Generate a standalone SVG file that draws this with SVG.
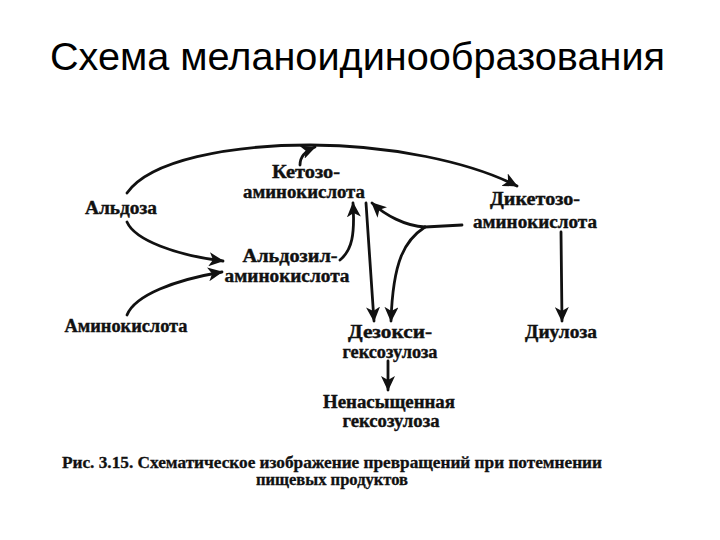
<svg xmlns="http://www.w3.org/2000/svg" width="720" height="540" viewBox="0 0 720 540">
<defs>
<marker id="ah" markerUnits="userSpaceOnUse" markerWidth="16" markerHeight="14" refX="14" refY="7" orient="auto">
<path d="M0,0 L15,7 L0,14 L4,7 z" fill="#111"/>
</marker>
<style>
.t{font-family:"Liberation Serif","Times New Roman",serif;font-weight:bold;font-size:18px;fill:#111;text-anchor:middle;stroke:#111;stroke-width:0.4}
.c{stroke:#111;stroke-width:2.8;fill:none;stroke-linecap:round}
.a{marker-end:url(#ah)}
.title{font-family:"Liberation Sans",Arial,sans-serif;font-size:39px;fill:#000}
.cap{font-family:"Liberation Serif","Times New Roman",serif;font-weight:bold;font-size:16px;fill:#111;text-anchor:middle;stroke:#111;stroke-width:0.3}
</style>
</defs>
<rect width="720" height="540" fill="#fff"/>
<text class="title" x="50" y="70" textLength="615" lengthAdjust="spacingAndGlyphs">Схема меланоидинообразования</text>

<g id="connectors">
<path class="c a" d="M127,193 C150,160 230,145 310,145 C390,145 470,162 517,186"/>
<path class="c a" d="M300,165 C300,157 305,151 315,147"/>
<path class="c a" d="M127,222 C135,240 175,255 223,261"/>
<path class="c a" d="M127,315 C135,295 175,280 222,272"/>
<path class="c a" d="M340,260 C352,250 355,235 353,203"/>
<path class="c a" d="M366,203 L374,321"/>
<path class="c" d="M462,225 L425,227"/>
<path class="c a" d="M425,227 C405,226 385,215 372,203"/>
<path class="c a" d="M425,227 C405,240 393,260 391,321"/>
<path class="c a" d="M561,232 L562,321"/>
<path class="c a" d="M388,361 L388,390"/>
</g>

<g id="aldoza"><text class="t" x="121" y="214" textLength="72" lengthAdjust="spacingAndGlyphs">Альдоза</text></g>
<g id="ketozo">
<text class="t" x="306" y="178" textLength="68" lengthAdjust="spacingAndGlyphs">Кетозо-</text>
<text class="t" x="304" y="198" textLength="122" lengthAdjust="spacingAndGlyphs">аминокислота</text>
</g>
<g id="aldozil">
<text class="t" x="290" y="262" textLength="95" lengthAdjust="spacingAndGlyphs">Альдозил-</text>
<text class="t" x="287" y="282" textLength="125" lengthAdjust="spacingAndGlyphs">аминокислота</text>
</g>
<g id="aminokislota"><text class="t" x="126" y="332" textLength="123" lengthAdjust="spacingAndGlyphs">Аминокислота</text></g>
<g id="diketozo">
<text class="t" x="535" y="205" textLength="90" lengthAdjust="spacingAndGlyphs">Дикетозо-</text>
<text class="t" x="535" y="228" textLength="124" lengthAdjust="spacingAndGlyphs">аминокислота</text>
</g>
<g id="dezoksi">
<text class="t" x="390" y="338" textLength="84" lengthAdjust="spacingAndGlyphs">Дезокси-</text>
<text class="t" x="390" y="358" textLength="95" lengthAdjust="spacingAndGlyphs">гексозулоза</text>
</g>
<g id="diuloza"><text class="t" x="561" y="338" textLength="72" lengthAdjust="spacingAndGlyphs">Диулоза</text></g>
<g id="nenasyschennaya">
<text class="t" x="389" y="408" textLength="132" lengthAdjust="spacingAndGlyphs">Ненасыщенная</text>
<text class="t" x="391" y="427" textLength="97" lengthAdjust="spacingAndGlyphs">гексозулоза</text>
</g>
<g id="caption">
<text class="cap" x="332" y="468" textLength="540" lengthAdjust="spacingAndGlyphs">Рис. 3.15. Схематическое изображение превращений при потемнении</text>
<text class="cap" x="332" y="485" textLength="152" lengthAdjust="spacingAndGlyphs">пищевых продуктов</text>
</g>
</svg>
